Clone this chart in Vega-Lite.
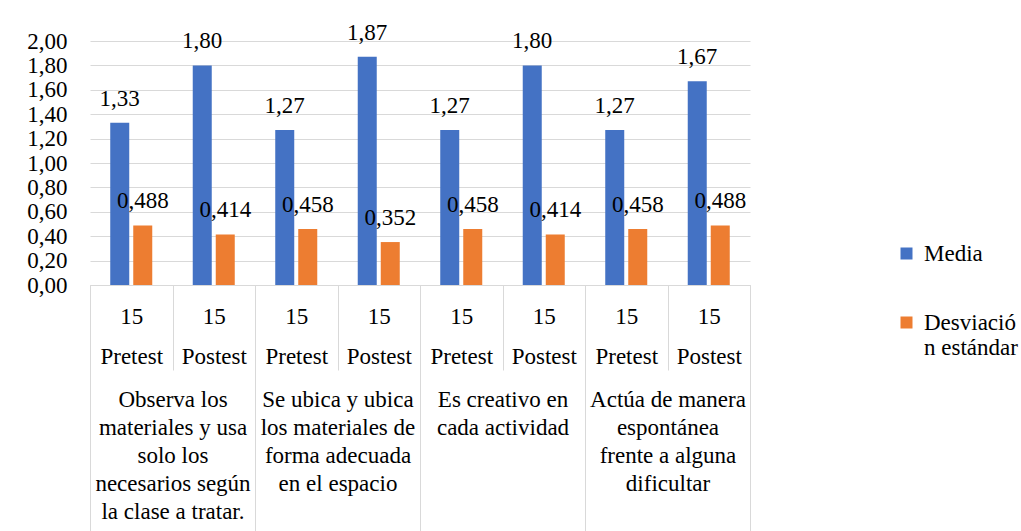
{
  "$schema": "https://vega.github.io/schema/vega-lite/v6.json",
  "width": 660,
  "height": 244,
  "autosize": {"type": "none"},
  "padding": {"left": 90, "top": 41, "right": 271, "bottom": 246},
  "background": "white",
  "data": {
    "values": [
      {"criterio": "Observa los|materiales y usa|solo los|necesarios según|la clase a tratar.", "cond": "Pretest 1", "serie": "Media", "valor": 1.33, "etiqueta": "1,33"},
      {"criterio": "Observa los|materiales y usa|solo los|necesarios según|la clase a tratar.", "cond": "Pretest 1", "serie": "Desviación estándar", "valor": 0.488, "etiqueta": "0,488"},
      {"criterio": "Observa los|materiales y usa|solo los|necesarios según|la clase a tratar.", "cond": "Postest 1", "serie": "Media", "valor": 1.80, "etiqueta": "1,80"},
      {"criterio": "Observa los|materiales y usa|solo los|necesarios según|la clase a tratar.", "cond": "Postest 1", "serie": "Desviación estándar", "valor": 0.414, "etiqueta": "0,414"},
      {"criterio": "Se ubica y ubica|los materiales de|forma adecuada|en el espacio", "cond": "Pretest 2", "serie": "Media", "valor": 1.27, "etiqueta": "1,27"},
      {"criterio": "Se ubica y ubica|los materiales de|forma adecuada|en el espacio", "cond": "Pretest 2", "serie": "Desviación estándar", "valor": 0.458, "etiqueta": "0,458"},
      {"criterio": "Se ubica y ubica|los materiales de|forma adecuada|en el espacio", "cond": "Postest 2", "serie": "Media", "valor": 1.87, "etiqueta": "1,87"},
      {"criterio": "Se ubica y ubica|los materiales de|forma adecuada|en el espacio", "cond": "Postest 2", "serie": "Desviación estándar", "valor": 0.352, "etiqueta": "0,352"},
      {"criterio": "Es creativo en|cada actividad", "cond": "Pretest 3", "serie": "Media", "valor": 1.27, "etiqueta": "1,27"},
      {"criterio": "Es creativo en|cada actividad", "cond": "Pretest 3", "serie": "Desviación estándar", "valor": 0.458, "etiqueta": "0,458"},
      {"criterio": "Es creativo en|cada actividad", "cond": "Postest 3", "serie": "Media", "valor": 1.80, "etiqueta": "1,80"},
      {"criterio": "Es creativo en|cada actividad", "cond": "Postest 3", "serie": "Desviación estándar", "valor": 0.414, "etiqueta": "0,414"},
      {"criterio": "Actúa de manera|espontánea|frente a alguna|dificultar", "cond": "Pretest 4", "serie": "Media", "valor": 1.27, "etiqueta": "1,27"},
      {"criterio": "Actúa de manera|espontánea|frente a alguna|dificultar", "cond": "Pretest 4", "serie": "Desviación estándar", "valor": 0.458, "etiqueta": "0,458"},
      {"criterio": "Actúa de manera|espontánea|frente a alguna|dificultar", "cond": "Postest 4", "serie": "Media", "valor": 1.67, "etiqueta": "1,67"},
      {"criterio": "Actúa de manera|espontánea|frente a alguna|dificultar", "cond": "Postest 4", "serie": "Desviación estándar", "valor": 0.488, "etiqueta": "0,488"}
    ]
  },
  "layer": [
    {
      "encoding": {
        "x": {
          "field": "cond", "type": "nominal", "sort": null,
          "scale": {"paddingInner": 0, "paddingOuter": 0},
          "axis": {
            "title": null, "orient": "bottom", "labelAngle": 0,
            "domain": true, "domainColor": "#d9d9d9", "domainWidth": 1,
            "ticks": true, "tickBand": "extent", "tickSize": 85, "tickColor": "#d9d9d9", "tickWidth": 1,
            "grid": false,
            "labelExpr": "datum.label ? ['15', split(datum.label, ' ')[0]] : ''",
            "labelBaseline": "top", "labelLineHeight": 40, "labelPadding": -65,
            "labelFont": "Liberation Serif", "labelFontSize": 23, "labelColor": "#000000"
          }
        },
        "xOffset": {
          "field": "serie", "type": "nominal", "sort": ["Media", "Desviación estándar"],
          "scale": {"paddingInner": 0.174, "paddingOuter": 0.88}
        },
        "y": {
          "field": "valor", "type": "quantitative",
          "scale": {"domain": [0, 2], "nice": false},
          "axis": {
            "title": null, "values": [0, 0.2, 0.4, 0.6, 0.8, 1.0, 1.2, 1.4, 1.6, 1.8, 2.0],
            "labelExpr": "replace(format(datum.value, '.2f'), '.', ',')",
            "domain": false, "ticks": false,
            "grid": true, "gridColor": "#d9d9d9", "gridWidth": 1, "gridOpacity": 1,
            "labelPadding": 23, "labelFont": "Liberation Serif", "labelFontSize": 23, "labelColor": "#000000"
          }
        }
      },
      "layer": [
        {
          "mark": {"type": "bar"},
          "encoding": {
            "color": {
              "field": "serie", "type": "nominal", "sort": ["Media", "Desviación estándar"],
              "scale": {"domain": ["Media", "Desviación estándar"], "range": ["#4472C4", "#ED7D31"]},
              "legend": {
                "title": null, "orient": "none", "legendX": 805, "legendY": 201,
                "symbolType": "square", "symbolSize": 144, "symbolStrokeWidth": 0,
                "labelFont": "Liberation Serif", "labelFontSize": 23, "labelColor": "#000000",
                "labelOffset": 6, "rowPadding": 45, "labelLineHeight": 28, "labelBaseline": "middle",
                "labelExpr": "datum.label == 'Desviación estándar' ? ['Desviació', 'n estándar'] : datum.label"
              }
            }
          }
        },
        {
          "mark": {"type": "text", "baseline": "middle", "dy": -24, "font": "Liberation Serif", "fontSize": 23, "color": "#000000"},
          "encoding": {"text": {"field": "etiqueta", "type": "nominal"}}
        }
      ]
    },
    {
      "mark": {"type": "text", "opacity": 0},
      "encoding": {
        "text": {"value": ""},
        "x": {
          "field": "criterio", "type": "nominal", "sort": null,
          "scale": {"paddingInner": 0, "paddingOuter": 0},
          "axis": {
            "title": null, "orient": "bottom", "labelAngle": 0,
            "domain": false,
            "ticks": true, "tickBand": "extent", "tickSize": 250, "tickColor": "#d9d9d9", "tickWidth": 1,
            "grid": false,
            "labelExpr": "split(datum.label, '|')",
            "labelBaseline": "top", "labelLineHeight": 28, "labelPadding": -147,
            "labelFont": "Liberation Serif", "labelFontSize": 23, "labelColor": "#000000"
          }
        }
      }
    }
  ],
  "resolve": {"scale": {"x": "independent"}, "axis": {"x": "independent"}},
  "config": {
    "font": "Liberation Serif",
    "view": {"stroke": null},
    "axisY": {"grid": true, "gridColor": "#d9d9d9"}
  }
}
